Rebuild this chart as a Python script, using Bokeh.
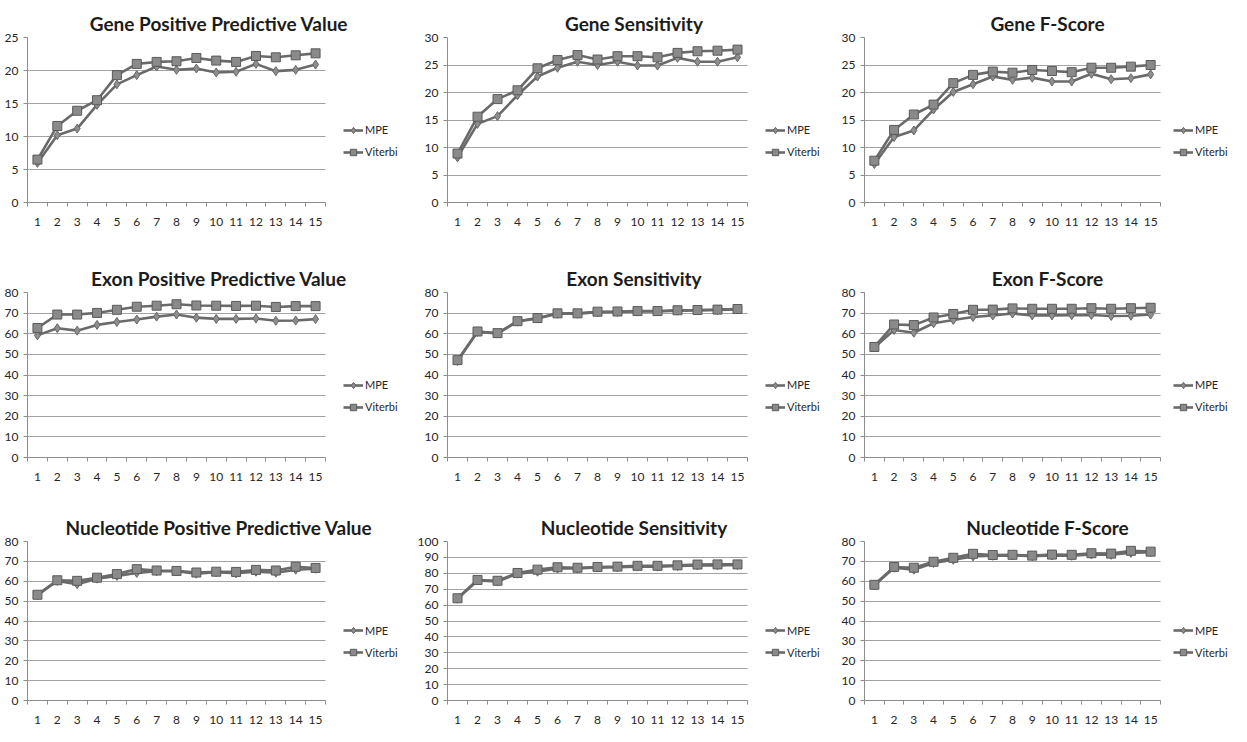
from bokeh.plotting import figure
from bokeh.models import Range1d, FixedTicker, Legend, LegendItem
from bokeh.layouts import column, row
from bokeh.embed import file_html
from bokeh.resources import INLINE

# ---------------- data ----------------
iterations = list(range(1, 16))
x_labels = [str(i) for i in iterations]
series_names = ["MPE", "Viterbi"]

titles = [
    "Gene Positive Predictive Value", "Gene Sensitivity", "Gene F-Score",
    "Exon Positive Predictive Value", "Exon Sensitivity", "Exon F-Score",
    "Nucleotide Positive Predictive Value", "Nucleotide Sensitivity", "Nucleotide F-Score",
]
y_max = [25, 30, 30, 80, 80, 80, 80, 100, 80]
y_step = [5, 5, 5, 10, 10, 10, 10, 10, 10]

gene_ppv_mpe = [6.0, 10.2, 11.2, 14.8, 17.9, 19.3, 20.6, 20.1, 20.3, 19.7, 19.8, 21.0, 19.9, 20.1, 20.9]
gene_ppv_vit = [6.5, 11.6, 13.9, 15.5, 19.3, 21.0, 21.3, 21.4, 21.9, 21.5, 21.3, 22.2, 22.0, 22.3, 22.6]
gene_sens_mpe = [8.2, 14.3, 15.7, 19.5, 22.9, 24.5, 25.6, 25.0, 25.6, 24.9, 24.9, 26.3, 25.6, 25.6, 26.4]
gene_sens_vit = [8.9, 15.6, 18.8, 20.4, 24.4, 25.9, 26.8, 26.0, 26.6, 26.6, 26.4, 27.2, 27.5, 27.6, 27.8]
gene_f_mpe = [7.0, 11.9, 13.1, 16.9, 20.1, 21.5, 22.9, 22.3, 22.7, 22.0, 22.0, 23.4, 22.4, 22.6, 23.3]
gene_f_vit = [7.6, 13.2, 16.0, 17.8, 21.7, 23.2, 23.8, 23.6, 24.1, 23.9, 23.7, 24.5, 24.5, 24.7, 25.0]
exon_ppv_mpe = [59.2, 62.7, 61.5, 64.3, 65.7, 66.9, 68.3, 69.3, 67.8, 67.2, 67.2, 67.4, 66.3, 66.4, 67.1]
exon_ppv_vit = [62.8, 69.3, 69.3, 70.1, 71.6, 73.1, 73.6, 74.3, 73.7, 73.6, 73.5, 73.6, 73.0, 73.4, 73.4]
exon_sens_mpe = [46.8, 60.9, 60.1, 65.9, 67.4, 69.7, 69.7, 70.5, 70.6, 70.8, 70.8, 71.2, 71.3, 71.5, 71.8]
exon_sens_vit = [47.2, 61.1, 60.3, 66.1, 67.6, 69.9, 69.9, 70.7, 70.8, 71.0, 71.0, 71.4, 71.5, 71.7, 72.0]
exon_f_mpe = [53.3, 61.8, 60.5, 65.1, 66.7, 68.1, 68.9, 69.8, 68.9, 68.9, 69.0, 69.1, 68.6, 68.7, 69.3]
exon_f_vit = [53.6, 64.5, 64.2, 67.9, 69.6, 71.6, 71.7, 72.3, 72.1, 72.1, 72.1, 72.4, 72.1, 72.4, 72.6]
nuc_ppv_mpe = [53.0, 60.2, 58.5, 61.3, 62.7, 64.2, 65.0, 65.0, 63.8, 64.5, 64.0, 64.8, 64.3, 65.8, 66.3]
nuc_ppv_vit = [53.2, 60.5, 60.2, 61.8, 63.6, 66.1, 65.4, 65.2, 64.4, 64.8, 64.7, 65.7, 65.4, 67.3, 66.7]
nuc_sens_mpe = [64.0, 75.5, 74.8, 79.8, 81.0, 83.0, 83.0, 83.6, 83.8, 84.2, 84.2, 84.6, 84.9, 85.0, 85.2]
nuc_sens_vit = [64.3, 75.8, 75.3, 80.2, 82.3, 83.8, 83.5, 84.0, 84.2, 84.7, 84.7, 85.0, 85.5, 85.6, 85.6]
nuc_f_mpe = [58.0, 66.8, 65.8, 69.2, 70.8, 72.5, 72.8, 73.0, 72.6, 73.0, 72.8, 73.5, 73.3, 74.3, 74.6]
nuc_f_vit = [58.2, 67.2, 66.8, 69.8, 71.8, 73.8, 73.2, 73.3, 72.9, 73.4, 73.3, 74.1, 73.9, 75.3, 74.9]

mpe_series = [gene_ppv_mpe, gene_sens_mpe, gene_f_mpe, exon_ppv_mpe, exon_sens_mpe, exon_f_mpe,
              nuc_ppv_mpe, nuc_sens_mpe, nuc_f_mpe]
vit_series = [gene_ppv_vit, gene_sens_vit, gene_f_vit, exon_ppv_vit, exon_sens_vit, exon_f_vit,
              nuc_ppv_vit, nuc_sens_vit, nuc_f_vit]

# ---------------- layout / style ----------------
FIG_W = 410
COL_L = [27, 37, 44]          # left border (y axis) per column
PLOT_W = [298, 300, 296]      # width of the plotting area per column
LEG_GAP = [18, 18, 13]        # gap between plotting area and legend
ROW_H = [246, 238, 242]
ROW_TOP = [37, 46, 57]        # frame top within figure
ROW_BOT = [44, 27, 25]        # border below frame

LINE_C = "#6a6a6a"
GRID_C = "#a3a3a3"
AXIS_C = "#8c8c8c"
FONT = "Lato"


def make_panel(i):
    r, c = divmod(i, 3)
    h = ROW_H[r]
    fh = h - ROW_TOP[r] - ROW_BOT[r]
    fw = FIG_W - COL_L[c]                      # frame spans plot + legend area
    n = len(iterations)
    x0, x1 = 0.5, n + 0.5
    x_end = x0 + (x1 - x0) * fw / PLOT_W[c]
    p = figure(width=FIG_W, height=h,
               x_range=Range1d(x0, x_end), y_range=Range1d(0, y_max[i]),
               output_backend="svg", toolbar_location=None,
               min_border_left=COL_L[c], min_border_right=0,
               min_border_top=ROW_TOP[r], min_border_bottom=ROW_BOT[r])
    p.outline_line_color = None
    p.background_fill_color = "white"
    p.border_fill_color = "white"

    p.title.text = titles[i]
    p.title.align = "center"
    p.title.text_font = FONT
    p.title.text_font_style = "bold"
    p.title.text_font_size = "19px"
    p.title.text_color = "#1c1c1c"
    p.title.standoff = 6

    # axes
    p.xaxis.bounds = (x0, x1)
    p.xaxis.ticker = FixedTicker(ticks=iterations,
                                 minor_ticks=[k + 0.5 for k in range(0, n + 1)])
    p.xaxis.major_label_overrides = {k: s for k, s in zip(iterations, x_labels)}
    p.xaxis.major_tick_out = 0
    p.xaxis.major_tick_in = 0
    p.xaxis.minor_tick_out = 4
    p.xaxis.minor_tick_in = 0
    p.xaxis.minor_tick_line_color = AXIS_C
    p.xaxis.major_label_standoff = 11

    p.yaxis.ticker = FixedTicker(ticks=list(range(0, y_max[i] + 1, y_step[i])))
    p.yaxis.major_tick_out = 4
    p.yaxis.major_tick_in = 0
    p.yaxis.minor_tick_line_color = None
    p.yaxis.major_tick_line_color = AXIS_C
    p.yaxis.major_label_standoff = 5

    for ax in (p.xaxis[0], p.yaxis[0]):
        ax.axis_line_color = AXIS_C
        ax.axis_line_width = 1
        ax.major_label_text_font = FONT
        ax.major_label_text_font_size = "12px"
        ax.major_label_text_color = "#262626"

    p.xgrid.grid_line_color = None
    p.ygrid.grid_line_color = GRID_C
    p.ygrid.grid_line_width = 1
    p.ygrid.cross_bounds = (x0, x1)

    # series
    l1 = p.line(iterations, mpe_series[i], line_color=LINE_C, line_width=2.6)
    s1 = p.scatter(iterations, mpe_series[i], marker="diamond", size=9,
                   fill_color="#8e8e8e", line_color="#666666", line_width=1)
    l2 = p.line(iterations, vit_series[i], line_color=LINE_C, line_width=2.6)
    s2 = p.scatter(iterations, vit_series[i], marker="square", size=9,
                   fill_color="#8a8a8a", line_color="#5a5a5a", line_width=1)

    legend = Legend(items=[LegendItem(label=series_names[0], renderers=[l1, s1]),
                           LegendItem(label=series_names[1], renderers=[l2, s2])],
                    location=(PLOT_W[c] + LEG_GAP[c], fh / 2 - 40),
                    margin=0, padding=0, spacing=6,
                    glyph_width=20, glyph_height=16, label_height=16, label_standoff=2,
                    label_text_font=FONT, label_text_font_size="11px",
                    label_text_color="#262626", border_line_color=None,
                    background_fill_alpha=0)
    p.add_layout(legend)
    return p


panels = [make_panel(i) for i in range(9)]
layout = column(row(*panels[0:3]), row(*panels[3:6]), row(*panels[6:9]))

open("out.html", "w").write(file_html(layout, INLINE))
